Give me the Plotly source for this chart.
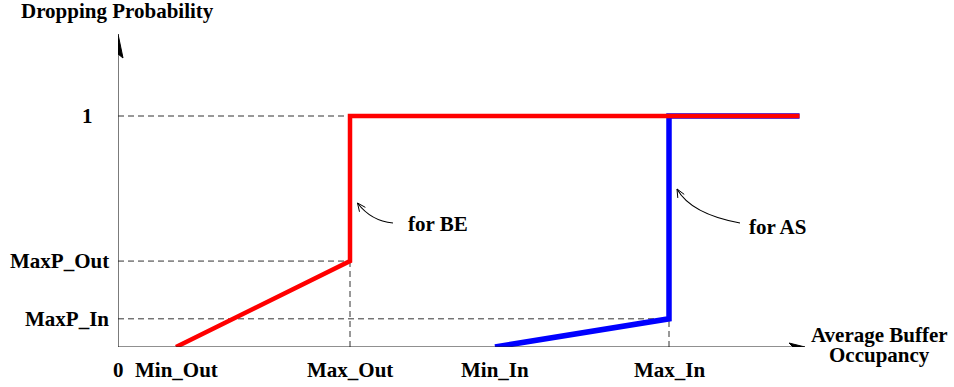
import math
import plotly.graph_objects as go

# ---------------- data ----------------
x_tick_labels = ["Min_Out", "Max_Out", "Min_In", "Max_In"]
x_tick_values = [1.0, 4.0, 6.5, 9.5]
y_tick_labels = ["MaxP_In", "MaxP_Out", "1"]
y_tick_values = [0.122, 0.372, 1.0]

be_x = [1.0, 4.0, 4.0, 11.75]
be_y = [0.0, 0.372, 1.0, 1.0]
as_x = [6.5, 9.5, 9.5, 11.75]
as_y = [0.0, 0.122, 1.0, 1.0]

x_axis_end = 11.845
y_axis_end = 1.355

# ---------------- layout constants ----------------
W, H = 954, 387
ML, MR, MT, MB = 118, 0, 24, 40
XS = 58.0    # px per x unit
YS = 231.0   # px per y unit
XMAX = (W - ML - MR) / XS
YMAX = (H - MT - MB) / YS


def pxd(xp, yp):
    """pixel -> data (for decorations only)"""
    return (xp - ML) / XS, (H - MB - yp) / YS


def dpx(x, y):
    return ML + x * XS, H - MB - y * YS


FONT = dict(family="'Liberation Serif', 'Times New Roman', Times, serif", size=21, color="black")

fig = go.Figure()

fig.add_trace(go.Scatter(x=as_x, y=as_y, mode="lines",
                         line=dict(color="#0000ff", width=5.5),
                         hoverinfo="skip", showlegend=False, cliponaxis=False))
fig.add_trace(go.Scatter(x=be_x, y=be_y, mode="lines",
                         line=dict(color="#ff0000", width=4.5),
                         hoverinfo="skip", showlegend=False, cliponaxis=False))

shapes = []
dash = dict(color="#333333", width=1, dash="6px,4px")
shapes.append(dict(type="line", xref="x", yref="y", x0=0, x1=be_x[1], y0=1.0, y1=1.0, line=dash, layer="below"))
shapes.append(dict(type="line", xref="x", yref="y", x0=0, x1=be_x[1], y0=be_y[1], y1=be_y[1], line=dash, layer="below"))
shapes.append(dict(type="line", xref="x", yref="y", x0=0, x1=as_x[1], y0=as_y[1], y1=as_y[1], line=dash, layer="below"))
shapes.append(dict(type="line", xref="x", yref="y", x0=be_x[1], x1=be_x[1], y0=0, y1=be_y[1], line=dash, layer="below"))
shapes.append(dict(type="line", xref="x", yref="y", x0=as_x[1], x1=as_x[1], y0=0, y1=as_y[1], line=dash, layer="below"))

axline = dict(color="#222222", width=1.2)
shapes.append(dict(type="line", xref="x", yref="y", x0=0, x1=0, y0=0, y1=y_axis_end - 0.06, line=axline))
shapes.append(dict(type="line", xref="x", yref="y", x0=0, x1=x_axis_end - 0.15, y0=0, y1=0, line=axline))


def path_from_px(pts, close=True):
    s = ""
    for i, (xp, yp) in enumerate(pts):
        x, y = pxd(xp, yp)
        s += ("M" if i == 0 else "L") + f"{x:.5f},{y:.5f} "
    if close:
        s += "Z"
    return s


tx, ty = dpx(0, y_axis_end)
shapes.append(dict(type="path", xref="x", yref="y",
                   path=path_from_px([(tx, ty), (tx + 5, ty + 24), (tx, ty + 20), (tx - 5, ty + 24)]),
                   fillcolor="black", line=dict(color="black", width=1)))
tx, ty = dpx(x_axis_end, 0)
shapes.append(dict(type="path", xref="x", yref="y",
                   path=path_from_px([(tx, ty), (tx - 16, ty - 4), (tx - 12, ty), (tx - 16, ty + 4)]),
                   fillcolor="black", line=dict(color="black", width=1)))


def curved_arrow(p0, c, p1):
    (x0, y0), (cx, cy), (x1, y1) = pxd(*p0), pxd(*c), pxd(*p1)
    shapes.append(dict(type="path", xref="x", yref="y",
                       path=f"M{x0:.5f},{y0:.5f} Q{cx:.5f},{cy:.5f} {x1:.5f},{y1:.5f}",
                       line=dict(color="black", width=1.1)))
    dx, dy = p1[0] - c[0], p1[1] - c[1]
    L = math.hypot(dx, dy)
    ux, uy = dx / L, dy / L
    hl = 9
    for ang in (0.42, -0.42):
        ca, sa = math.cos(ang), math.sin(ang)
        bx = -(ux * ca - uy * sa) * hl
        by = -(ux * sa + uy * ca) * hl
        shapes.append(dict(type="path", xref="x", yref="y",
                           path=path_from_px([p1, (p1[0] + bx, p1[1] + by)], close=False),
                           line=dict(color="black", width=1)))


curved_arrow((393, 223), (371, 221), (357.5, 203))
curved_arrow((740, 223), (691, 214), (677, 189))

annotations = []


def label(text, x, y, xanchor="center", yanchor="middle", xshift=0, yshift=0, xref="x", yref="y"):
    annotations.append(dict(text="<b>" + text + "</b>", x=x, y=y, xref=xref, yref=yref, showarrow=False,
                            xanchor=xanchor, yanchor=yanchor, xshift=xshift, yshift=yshift,
                            font=FONT))


for t, v in zip(x_tick_labels, x_tick_values):
    label(t, v, 0, yshift=-23)
label("0", 0, 0, yshift=-23)
for t, v in zip(y_tick_labels, y_tick_values):
    label(t, 0, v, xanchor="right", xshift=-7 if t != "1" else -23)

label("Dropping Probability", 0, 1, xref="x", yref="paper", yshift=13, xshift=-1)
xc_title = pxd(879, 0)[0]
label("Average Buffer", xc_title, 0, yshift=12)
label("Occupancy", xc_title, 0, yshift=-8)

label("for BE", 4.0, 1, xanchor="left", xshift=406 - dpx(4.0, 0)[0], yshift=-(224 - dpx(0, 1)[1]))
label("for AS", 9.5, 1, xanchor="left", xshift=747 - dpx(9.5, 0)[0], yshift=-(227 - dpx(0, 1)[1]))

fig.update_layout(
    width=W, height=H,
    margin=dict(l=ML, r=MR, t=MT, b=MB, pad=0),
    paper_bgcolor="white", plot_bgcolor="white",
    font=FONT,
    xaxis=dict(range=[0, XMAX], visible=False, fixedrange=True),
    yaxis=dict(range=[0, YMAX], visible=False, fixedrange=True),
    shapes=shapes, annotations=annotations,
    showlegend=False,
)

fig.write_html("out.html", config={"displayModeBar": False},
               post_script="document.body.style.margin='0';document.body.style.padding='0';")
